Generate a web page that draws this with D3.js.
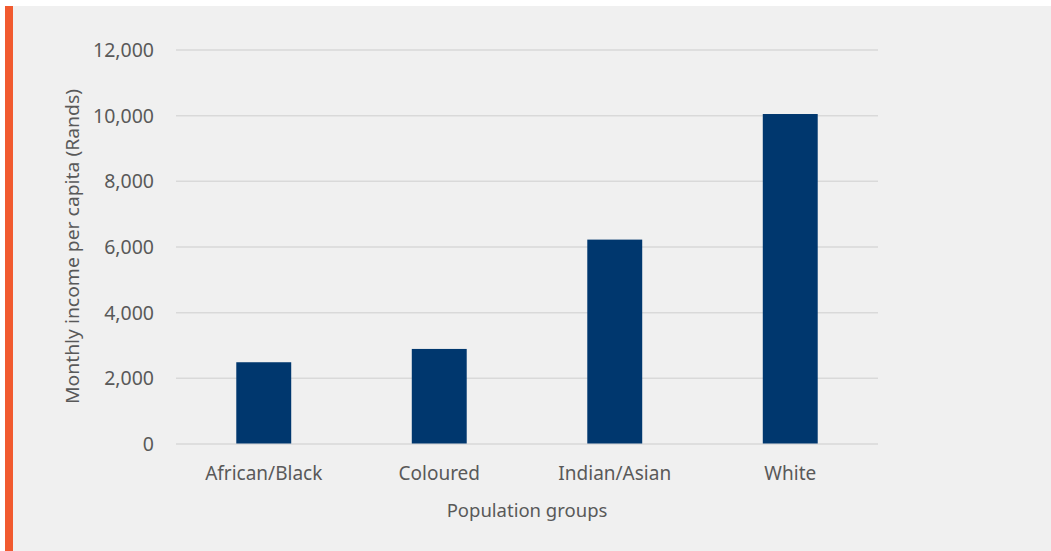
<!DOCTYPE html>
<html><head><meta charset="utf-8">
<script src="https://cdn.jsdelivr.net/npm/d3@7"></script>
<style>
html,body{margin:0;padding:0;background:#fff;}
svg{display:block;}
text{font-family:"Noto Sans","Open Sans",sans-serif;fill:#595959;}
</style></head>
<body>
<svg id="chart" width="1051" height="551"></svg>
<script>
const categories = ["African/Black", "Coloured", "Indian/Asian", "White"];
const values = [2475, 2880, 6210, 10035];
const yTicks = [0, 2000, 4000, 6000, 8000, 10000, 12000];
const xTitle = "Population groups";
const yTitle = "Monthly income per capita (Rands)";

const svg = d3.select("#chart");
svg.append("rect").attr("x", 5).attr("y", 6).attr("width", 1046).attr("height", 545).attr("fill", "#f0f0f0");
svg.append("rect").attr("x", 5).attr("y", 6).attr("width", 8).attr("height", 545).attr("fill", "#f15a2f");

const plotL = 176, plotR = 878, plotT = 49.5, plotB = 443.5;
const x = d3.scaleBand().domain(categories).range([plotL, plotR]).padding(0);
const y = d3.scaleLinear().domain([0, 12000]).range([plotB, plotT]);
const fmt = d3.format(",");

const yAxis = svg.append("g").attr("transform", `translate(${plotL},0)`)
  .call(d3.axisLeft(y).tickValues(yTicks).tickFormat(fmt).tickSize(-(plotR - plotL)).tickPadding(22));
yAxis.select(".domain").remove();
yAxis.selectAll(".tick line").attr("stroke", "#d9d9d9").attr("stroke-width", 1.5);
yAxis.selectAll(".tick text").attr("font-size", 19.5).attr("fill", "#595959").attr("dy", "0.36em");

const xAxis = svg.append("g").attr("transform", `translate(0,${plotB})`)
  .call(d3.axisBottom(x).tickSize(0));
xAxis.select(".domain").remove();
xAxis.selectAll(".tick text").attr("font-size", 19).attr("fill", "#595959")
  .attr("y", 36).attr("dy", 0);

const bw = x.bandwidth() * 0.313;
svg.append("g").selectAll("rect").data(categories).join("rect")
  .attr("x", (d) => x(d) + x.bandwidth() / 2 - bw / 2)
  .attr("width", bw)
  .attr("y", (d, i) => y(values[i]))
  .attr("height", (d, i) => y(0) - y(values[i]))
  .attr("fill", "#00376e");

svg.append("text").attr("x", (plotL + plotR) / 2).attr("y", 517)
  .attr("text-anchor", "middle").attr("font-size", 18.5).text(xTitle);
svg.append("text").attr("transform", "translate(73,246.5) rotate(-90)").attr("dy", "0.35em")
  .attr("text-anchor", "middle").attr("font-size", 18)
  .attr("textLength", 315).attr("lengthAdjust", "spacingAndGlyphs").text(yTitle);
</script>
</body></html>
